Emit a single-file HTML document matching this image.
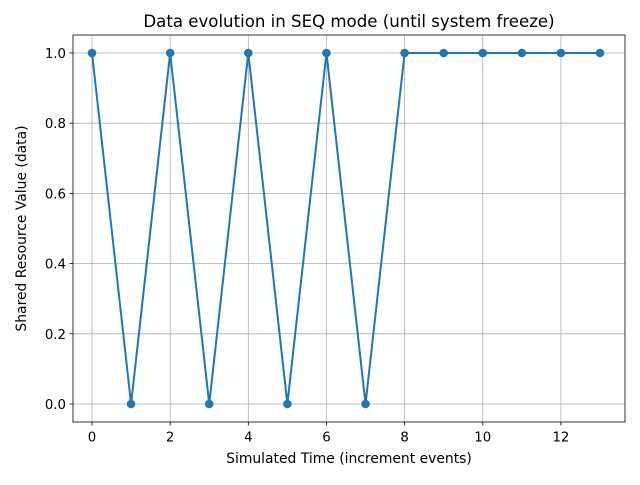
<!DOCTYPE html>
<html><head><meta charset="utf-8"><style>
body{margin:0;background:#fff;font-family:"Liberation Sans","DejaVu Sans",sans-serif;}
svg text{font-family:"DejaVu Sans","Liberation Sans",sans-serif;}
</style></head><body>
<svg id="chart" width="640" height="480" xmlns="http://www.w3.org/2000/svg"></svg>
<script>
const times = [0,1,2,3,4,5,6,7,8,9,10,11,12,13];
const values = [1,0,1,0,1,0,1,0,1,1,1,1,1,1];
const xTicks = [0,2,4,6,8,10,12];
const yTicks = [0.0,0.2,0.4,0.6,0.8,1.0];
const yTickLabels = ["0.0","0.2","0.4","0.6","0.8","1.0"];

const L=73,R=625,T=35,B=422;
const xs=v=>92+(v-0)*(600-92)/13;
const ys=v=>404-v*(404-53);
const svg=document.getElementById('chart');
const NS='http://www.w3.org/2000/svg';
function mk(tag,attrs,parent){const e=document.createElementNS(NS,tag);for(const k in attrs)e.setAttribute(k,attrs[k]);(parent||svg).appendChild(e);return e;}

const grid=mk('g',{});


xTicks.forEach(t=>{mk('line',{x1:xs(t),x2:xs(t),y1:T,y2:B,stroke:'#b0b0b0','stroke-width':0.8},grid);});
yTicks.forEach(t=>{mk('line',{x1:L,x2:R,y1:ys(t),y2:ys(t),stroke:'#b0b0b0','stroke-width':0.8},grid);});

const xa=mk('g',{});


xTicks.forEach(t=>{mk('line',{x1:xs(t),x2:xs(t),y1:B,y2:B+3.5,stroke:'#000','stroke-width':0.8},xa);
 const tx=mk('text',{x:xs(t),y:B+19.5,'font-size':13.3,'text-anchor':'middle'},xa);tx.textContent=t;});
const ya=mk('g',{});


yTicks.forEach((t,i)=>{mk('line',{x1:L-3.5,x2:L,y1:ys(t),y2:ys(t),stroke:'#000','stroke-width':0.8},ya);
 const tx=mk('text',{x:L-7,y:ys(t)+5,'font-size':13.3,'text-anchor':'end'},ya);tx.textContent=yTickLabels[i];});

mk('polyline',{points:times.map((t,i)=>xs(t)+','+ys(values[i])).join(' '),fill:'none',stroke:'#1f77b4','stroke-width':2});
times.forEach((t,i)=>{const c=mk('circle',{cx:xs(t),cy:ys(values[i]),r:4.3,fill:'#1f77b4'});

});

const fr=mk('rect',{x:L,y:T,width:R-L,height:B-T,fill:'none',stroke:'#000','stroke-width':0.8});



const title=mk('text',{x:(L+R)/2,y:27,'font-size':16.6,'text-anchor':'middle'});title.textContent='Data evolution in SEQ mode (until system freeze)';


const xl=mk('text',{x:(L+R)/2,y:463,'font-size':13.9,'text-anchor':'middle'});xl.textContent='Simulated Time (increment events)';


const yl=mk('text',{x:0,y:0,'font-size':13.9,'text-anchor':'middle',transform:'translate(26,'+((T+B)/2)+') rotate(-90)'});yl.textContent='Shared Resource Value (data)';


</script>
</body></html>
